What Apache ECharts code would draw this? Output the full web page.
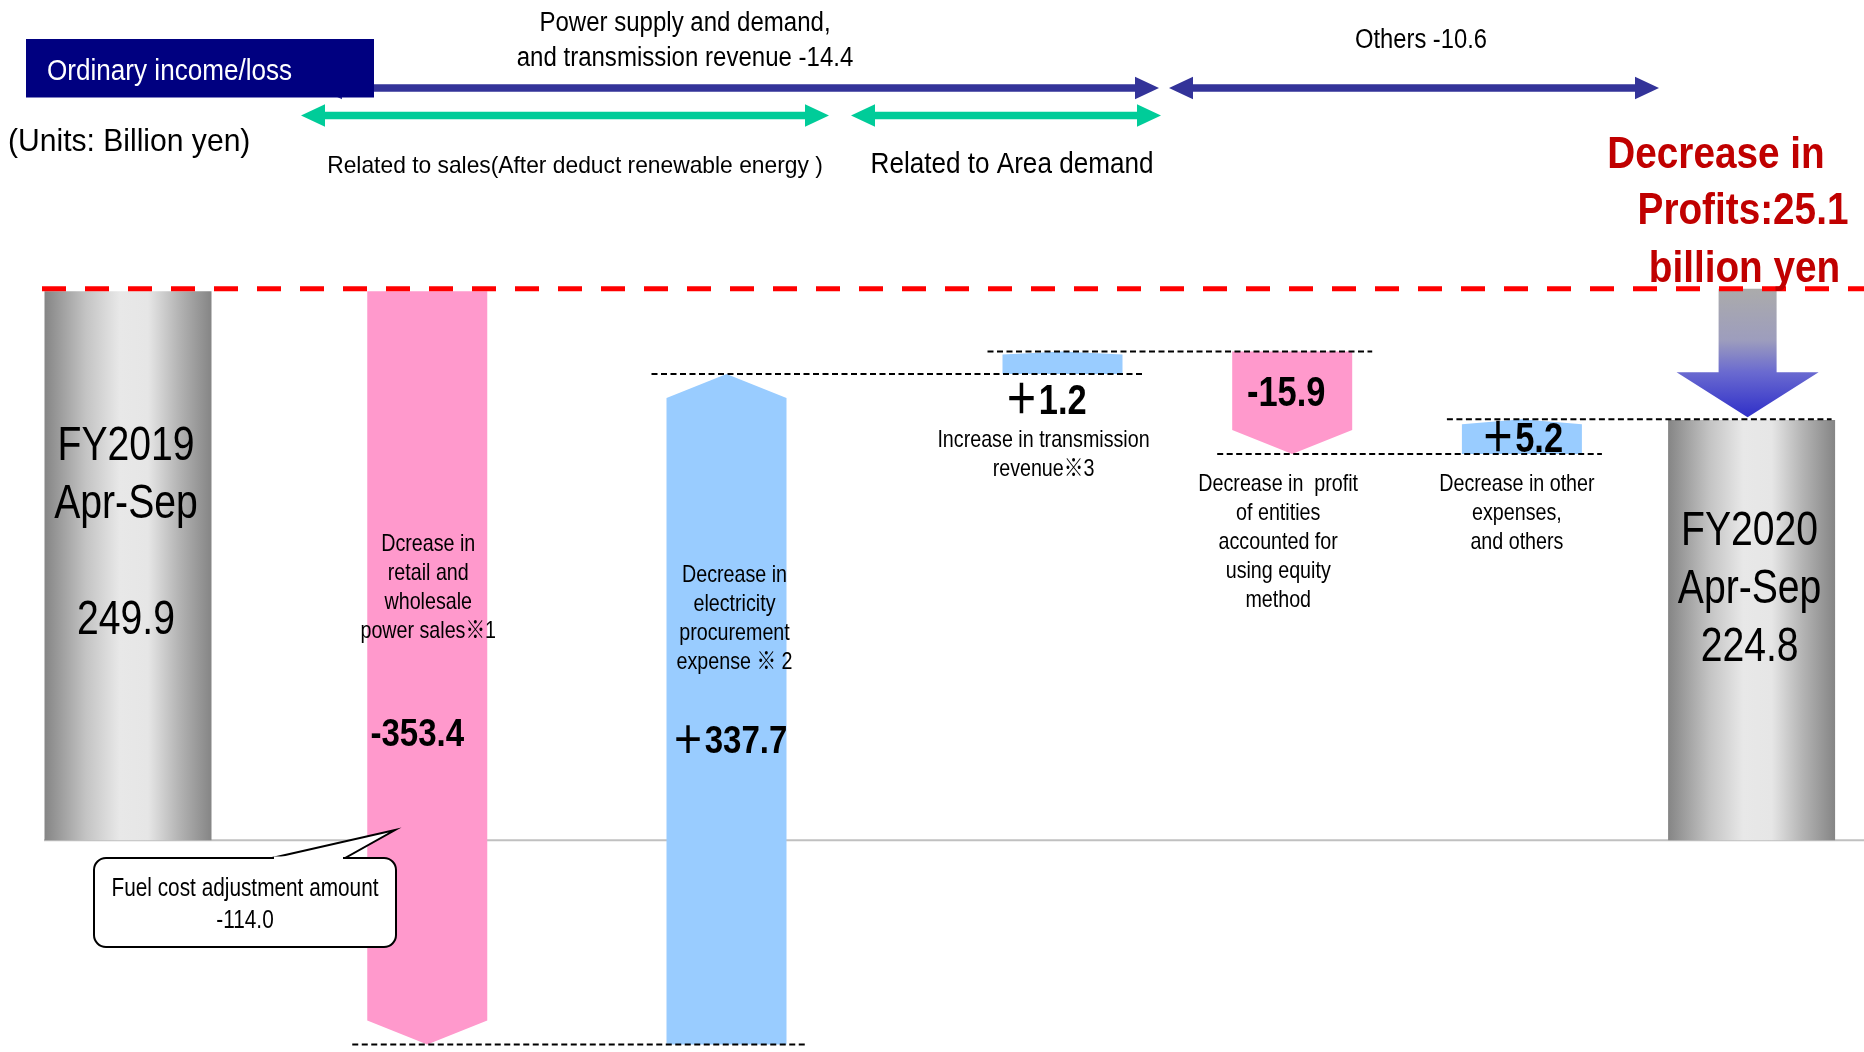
<!DOCTYPE html>
<html>
<head>
<meta charset="utf-8">
<title>Ordinary income/loss</title>
<script src="https://cdn.jsdelivr.net/npm/echarts@6/dist/echarts.min.js"></script>
<style>
  html, body { margin: 0; padding: 0; background: #fff; }
  #chart { width: 1864px; height: 1052px; }
</style>
</head>
<body>
<div id="chart"></div>
<script>
const categories = [
  'FY2019\nApr-Sep',
  'Dcrease in\nretail and\nwholesale\npower sales※1',
  'Decrease in\nelectricity\nprocurement\nexpense ※ 2',
  'Increase in transmission\nrevenue※3',
  'Decrease in  profit\nof entities\naccounted for\nusing equity\nmethod',
  'Decrease in other\nexpenses,\nand others',
  'FY2020\nApr-Sep'
];
const kinds = ['total', 'delta', 'delta', 'delta', 'delta', 'delta', 'total'];
const values = [249.9, -353.4, 337.7, 1.2, -15.9, 5.2, 224.8];
// the slide is not drawn to scale: level each bar reaches as drawn in the picture
const drawnEnd = [249.9, -92.9, 212.2, 222.5, 175.8, 191.6, 191.3];
const groupLabels = ['Power supply and demand,\nand transmission revenue -14.4', 'Others -10.6'];
const subGroupLabels = ['Related to sales(After deduct renewable energy )', 'Related to Area demand'];
const fuelCostAdjustment = -114.0;

const FONT = '"Liberation Sans", Arial, "Noto Sans CJK JP", sans-serif';
const PINK = '#ff99cc', BLUE = '#99ccff', NAVY = '#333399', GREEN = '#00cc99';
const grayFill = {
  type: 'linear', x: 0, y: 0, x2: 1, y2: 0,
  colorStops: [
    {offset: 0, color: '#858585'}, {offset: 0.25, color: '#c4c4c4'},
    {offset: 0.45, color: '#e8e8e8'}, {offset: 0.62, color: '#e6e6e6'},
    {offset: 0.8, color: '#b5b5b5'}, {offset: 1, color: '#858585'}
  ]
};
// label placement (px offsets), kept apart from the data
const labelLayout = [
  {dy: -32, gap: 2},
  {desc: [1, -457], val: [-10, -309], size: 38, sx: 0.87},
  {desc: [8, -426], val: [3, -302], size: 38, sx: 0.87},
  {desc: [-19, 81], val: [-17, 28], size: 42, sx: 0.82},
  {desc: [-14, 88], val: [-6, -60], size: 42, sx: 0.82},
  {desc: [-5, 59], val: [0, -14], size: 42, sx: 0.82},
  {dy: -40, gap: 1}
];
const split = 3; // first bars on grid 0, rest on grid 1

function txt(x, y, text, o) {
  const align = o.align || 'center';
  return {
    type: 'text', x: x, y: y, scaleX: o.sx || 1, z: o.z || 60,
    style: {
      text: text, fill: o.color || '#000', fontSize: o.size, fontFamily: FONT,
      fontWeight: o.bold ? 'bold' : 'normal', lineHeight: o.lh || o.size * 1.2,
      align: align, verticalAlign: 'middle', textAlign: align, textVerticalAlign: 'middle'
    }
  };
}

function fmt(v) {
  return v > 0 ? '＋' + v.toFixed(1) : v.toFixed(1);
}

function renderBar(params, api) {
  const i = api.value(3);
  const slot = api.value(0);
  const p0 = api.coord([slot, api.value(1)]);
  const p1 = api.coord([slot, api.value(2)]);
  const x = p0[0];
  const lay = labelLayout[i];
  const children = [];
  if (kinds[i] === 'total') {
    const w = 167;
    const top = Math.min(p0[1], p1[1]), bottom = Math.max(p0[1], p1[1]);
    children.push({type: 'rect', shape: {x: x - w / 2, y: top, width: w, height: bottom - top}, style: {fill: grayFill}});
    children.push(txt(x - 2, (top + bottom) / 2 + lay.dy,
      categories[i] + '\n'.repeat(lay.gap) + values[i].toFixed(1), {size: 48, lh: 58, sx: 0.815}));
  } else {
    const half = 60;
    const len = Math.abs(p1[1] - p0[1]);
    const head = len > 60 ? 24 : len * 0.14;
    const dir = p1[1] > p0[1] ? 1 : -1;
    const neck = p1[1] - dir * head;
    children.push({
      type: 'polygon',
      shape: {points: [[x - half, p0[1]], [x + half, p0[1]], [x + half, neck], [x, p1[1]], [x - half, neck]]},
      style: {fill: values[i] < 0 ? PINK : BLUE}
    });
    const lower = Math.max(p0[1], p1[1]);
    children.push(txt(x + lay.desc[0], lower + lay.desc[1], categories[i], {size: 24, lh: 29, sx: 0.82}));
    children.push(txt(x + lay.val[0], lower + lay.val[1], fmt(values[i]), {size: lay.size, sx: lay.sx, bold: true}));
  }
  return {type: 'group', children: children};
}

const starts = drawnEnd.map((v, i) => kinds[i] === 'total' ? 0 : drawnEnd[i - 1]);
const rows = values.map((v, i) => [i < split ? i : i - split, starts[i], drawnEnd[i], i]);

const chart = echarts.init(document.getElementById('chart'));
const option = {
  animation: false,
  backgroundColor: '#fff',
  grid: [
    {left: 128, right: 1137.5, top: 280, bottom: 3},
    {left: 1062.5, right: 112.4, top: 280, bottom: 3}
  ],
  xAxis: [
    {type: 'category', gridIndex: 0, data: categories.slice(0, split), boundaryGap: false, show: false},
    {type: 'category', gridIndex: 1, data: categories.slice(split), boundaryGap: false, show: false}
  ],
  yAxis: [
    {type: 'value', gridIndex: 0, min: -95, max: 255, show: false},
    {type: 'value', gridIndex: 1, min: -95, max: 255, show: false}
  ],
  series: [
    {type: 'custom', xAxisIndex: 0, yAxisIndex: 0, silent: true, renderItem: renderBar,
      encode: {x: 0, y: [1, 2]}, data: rows.slice(0, split)},
    {type: 'custom', xAxisIndex: 1, yAxisIndex: 1, silent: true, renderItem: renderBar,
      encode: {x: 0, y: [1, 2]}, data: rows.slice(split)}
  ]
};
chart.setOption(option);

function px(i, level) {
  const g = i < split ? 0 : 1;
  return chart.convertToPixel({gridIndex: g}, [i < split ? i : i - split, level]);
}

function doubleArrow(x1, x2, y, color) {
  const t = 3.8, hl = 24, hh = 11.3;
  return {
    type: 'polygon', z: 60,
    shape: {points: [[x1, y], [x1 + hl, y - hh], [x1 + hl, y - t], [x2 - hl, y - t], [x2 - hl, y - hh],
      [x2, y], [x2 - hl, y + hh], [x2 - hl, y + t], [x1 + hl, y + t], [x1 + hl, y + hh]]},
    style: {fill: color}
  };
}

const els = [];
// baseline
const base = px(0, 0);
els.push({type: 'line', z: 0, shape: {x1: base[0] - 84, y1: base[1], x2: 1864, y2: base[1]},
  style: {stroke: '#c0c0c0', lineWidth: 2}});
// connectors between bars
for (let i = 2; i < values.length; i++) {
  const a = px(i - 1, drawnEnd[i - 1]);
  const b = px(i, drawnEnd[i - 1]);
  els.push({type: 'line', z: 55, shape: {x1: a[0] - 75, y1: a[1], x2: b[0] + 80, y2: a[1]},
    style: {stroke: '#000', lineWidth: 2, lineDash: [6, 3.5]}});
}
// previous year level
const ref = px(0, drawnEnd[0]);
const redY = ref[1] - 2.5;
els.push({type: 'line', z: 58, shape: {x1: ref[0] - 86, y1: redY, x2: 1864, y2: redY},
  style: {stroke: '#ff0000', lineWidth: 5, lineDash: [24, 19]}});
// decrease arrow onto FY2020
const last = values.length - 1;
const endP = px(last, drawnEnd[last - 1]);
const ax = endP[0] - 4, tipY = endP[1] - 2;
els.push({
  type: 'polygon', z: 57,
  shape: {points: [[ax - 29, redY], [ax + 29, redY], [ax + 29, tipY - 45], [ax + 71, tipY - 45],
    [ax, tipY], [ax - 71, tipY - 45], [ax - 29, tipY - 45]]},
  style: {fill: {type: 'linear', x: 0, y: 0, x2: 0, y2: 1, colorStops: [
    {offset: 0, color: '#ababab'}, {offset: 0.4, color: '#9d9dbd'},
    {offset: 0.65, color: '#6a6ad0'}, {offset: 1, color: '#2f2fc8'}]}}
});
// header
els.push(doubleArrow(318, 1159, 88, NAVY));
els.push(doubleArrow(1169, 1659, 88, NAVY));
els.push(doubleArrow(301, 829, 115.5, GREEN));
els.push(doubleArrow(851, 1161, 115.5, GREEN));
els.push({type: 'rect', z: 61, shape: {x: 26, y: 39, width: 348, height: 58.5}, style: {fill: '#000080'}});
els.push(txt(47, 72, 'Ordinary income/loss', {size: 30, sx: 0.87, color: '#fff', align: 'left', z: 62}));
els.push(txt(8, 142.5, '(Units: Billion yen)', {size: 32, sx: 0.94, align: 'left'}));
els.push(txt(685, 41, groupLabels[0], {size: 27, lh: 35, sx: 0.89}));
els.push(txt(1421, 41, groupLabels[1], {size: 27, sx: 0.88}));
els.push(txt(575, 166.5, subGroupLabels[0], {size: 24, sx: 0.95}));
els.push(txt(1012, 165, subGroupLabels[1], {size: 29, sx: 0.9}));
// headline
const drop = (values[0] - values[last]).toFixed(1);
els.push(txt(1716, 155.5, 'Decrease in', {size: 44, sx: 0.88, bold: true, color: '#c00000'}));
els.push(txt(1743, 212, 'Profits:' + drop, {size: 44, sx: 0.88, bold: true, color: '#c00000'}));
els.push(txt(1744.5, 269.5, 'billion yen', {size: 44, sx: 0.88, bold: true, color: '#c00000'}));
// callout on the sales bar
els.push({type: 'rect', z: 62, shape: {x: 94, y: 858, width: 302, height: 89, r: 12},
  style: {fill: '#fff', stroke: '#000', lineWidth: 2}});
els.push({type: 'polygon', z: 63, shape: {points: [[272, 858], [395, 830], [345, 858]]},
  style: {fill: '#fff', stroke: '#000', lineWidth: 2, lineJoin: 'miter'}});
els.push({type: 'line', z: 64, shape: {x1: 274, y1: 858, x2: 343, y2: 858},
  style: {stroke: '#fff', lineWidth: 3}});
els.push(txt(245, 905, 'Fuel cost adjustment amount\n' + fuelCostAdjustment.toFixed(1), {size: 26, lh: 32, sx: 0.8, z: 65}));

chart.setOption({graphic: {elements: els}});
</script>
</body>
</html>
